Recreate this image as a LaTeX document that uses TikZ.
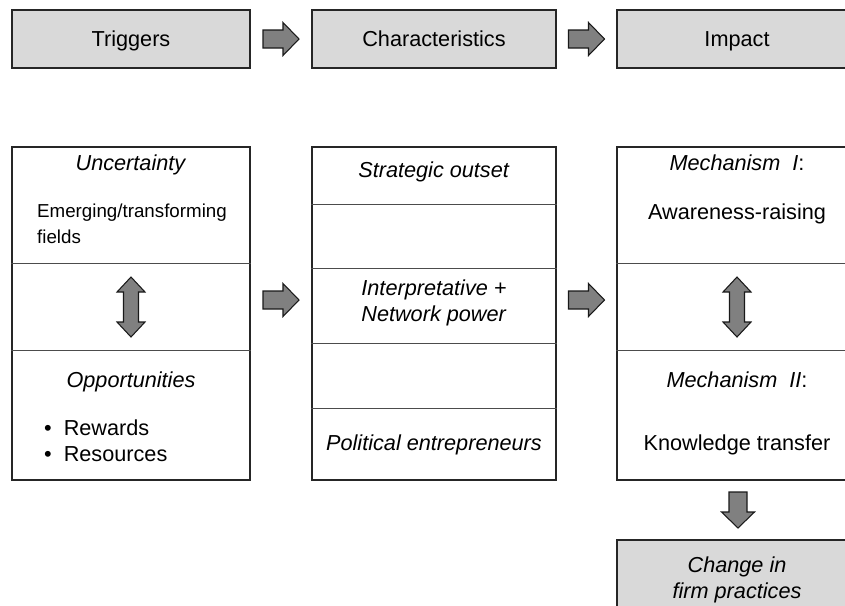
\documentclass[tikz,border=0pt]{standalone}
\usepackage{fontspec}
\setmainfont{Liberation Sans}
\usepackage{xcolor}
\usepackage{tikz}
\usetikzlibrary{calc}
\definecolor{headgray}{HTML}{D9D9D9}
\definecolor{arrowgray}{HTML}{808080}
\tikzset{blockarrow/.style = {draw=black!90,fill=arrowgray,line width=0.9pt,line join=miter}}
\tikzset{rarrow/.pic = {\draw[blockarrow] (-18,-9) -- (2,-9) -- (2,-16.5) -- (18,0) -- (2,16.5) -- (2,9) -- (-18,9) -- cycle;}}
\tikzset{udarrow/.pic = {\draw[blockarrow] (-7.5,-15) -- (-14,-15) -- (0,-30) -- (14,-15) -- (7.5,-15) -- (7.5,15) -- (14,15) -- (0,30) -- (-14,15) -- (-7.5,15) -- cycle;}}

\begin{document}
\begin{tikzpicture}[x=0.03cm,y=-0.03cm,every node/.style={font=\fontsize{18.5}{22}\selectfont},
    box/.style={draw=black!85,line width=0.9pt,inner sep=0pt},
    head box/.style={box,fill=headgray,minimum height=1.74cm},
    body box/.style={box,minimum height=9.99cm},
    line/.style={text height=13pt,text depth=0pt,inner sep=0pt},
    divider/.style={draw=black!70,line width=0.8pt}]
    \useasboundingbox (0,0) rectangle (845,605);
    \clip (0,0) rectangle (845,605);

    % headings
    \node[head box,minimum width=7.14cm] (trig) at (131,39) {};
    \node[head box,minimum width=7.32cm] (char) at (434,39) {};
    \node[head box,minimum width=7.2cm] (imp) at (737,39) {};
    \node[line] (trigt) at (trig) {Triggers};
    \node[line] (chart) at (char) {Characteristics};
    \node[line] (impt) at (imp) {Impact};
    \pic at ($(trig.east)!0.5!(char.west)$) {rarrow};
    \pic at ($(char.east)!0.5!(imp.west)$) {rarrow};

    % body boxes
    \node[body box,minimum width=7.14cm] (trigbox) at (131,313.5) {};
    \node[body box,minimum width=7.32cm] (charbox) at (434,313.5) {};
    \node[body box,minimum width=7.2cm] (impbox) at (737,313.5) {};
    \node[head box,minimum width=7.2cm,minimum height=2.4cm] (change) at (737,580) {};

    \foreach \y in {263,350}
        \draw[divider] (trigbox.west |- 0,\y) -- (trigbox.east |- 0,\y);
    \foreach \y in {204,268,343,408}
        \draw[divider] (charbox.west |- 0,\y) -- (charbox.east |- 0,\y);
    \foreach \y in {263,350}
        \draw[divider] (impbox.west |- 0,\y) -- (impbox.east |- 0,\y);

    % triggers
    \node[line] (unc) at (131,163) {\textit{Uncertainty}};
    \node[align=left,font=\fontsize{16}{22}\selectfont] (emerg) at (132,224) {Emerging/transforming\\fields};
    \node[line] (opp) at (131,380) {\textit{Opportunities}};
    \node[align=left,anchor=west] (rew) at (40,441) {\textbullet\ \ Rewards\\\textbullet\ \ Resources};
    \pic at (131,307) {udarrow};

    % characteristics
    \node[line] (strat) at (434,170) {\textit{Strategic outset}};
    \node[align=center] (interp) at (434,303) {\textit{Interpretative +}\\\textit{Network power}};
    \node[line] (polit) at (434,443) {\textit{Political entrepreneurs}};

    % impact
    \node[line] (mech1) at (737,163) {\textit{Mechanism\ \ I}:};
    \node[line] (aware) at (737,212) {Awareness-raising};
    \pic at (737,307) {udarrow};
    \node[line] (mech2) at (737,380) {\textit{Mechanism\ \ II}:};
    \node[line] (know) at (737,443) {Knowledge transfer};
    \node[align=center] (chtext) at (737,580) {\textit{Change in}\\\textit{firm practices}};

    \pic at ($(trigbox.east)!0.5!(charbox.west)+(0,-13.5)$) {rarrow};
    \pic at ($(charbox.east)!0.5!(impbox.west)+(0,-13.5)$) {rarrow};
    \pic[rotate=-90] at (738,510) {rarrow};
\end{tikzpicture}
\end{document}
